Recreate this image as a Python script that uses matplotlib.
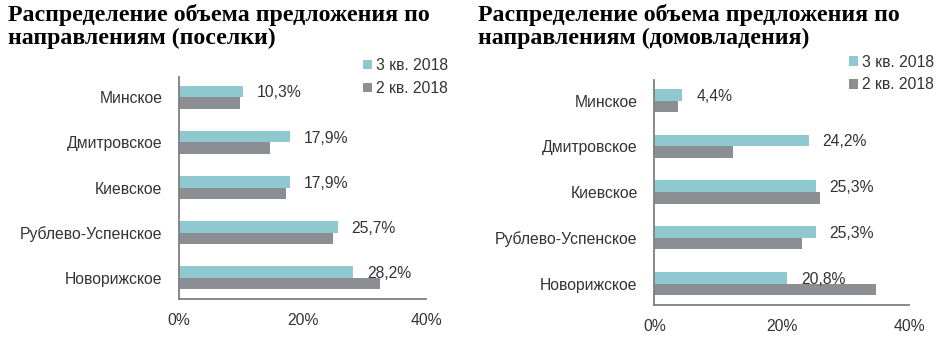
import numpy as np
import matplotlib.pyplot as plt

plt.rcParams['font.family'] = ['Liberation Sans', 'DejaVu Sans']

categories = ['Минское', 'Дмитровское', 'Киевское', 'Рублево-Успенское', 'Новорижское']
series_names = ['3 кв. 2018', '2 кв. 2018']

# поселки
villages_q3 = [10.3, 17.9, 17.9, 25.7, 28.2]
villages_q2 = [9.8, 14.8, 17.3, 25.0, 32.5]
villages_labels = ['10,3%', '17,9%', '17,9%', '25,7%', '28,2%']

# домовладения
houses_q3 = [4.4, 24.2, 25.3, 25.3, 20.8]
houses_q2 = [3.7, 12.3, 26.0, 23.1, 34.8]
houses_labels = ['4,4%', '24,2%', '25,3%', '25,3%', '20,8%']

xticks = [0, 20, 40]
xtick_labels = ['0%', '20%', '40%']

teal = '#8FC9CF'
gray = '#8B8E92'
txt = '#333333'

fig = plt.figure(figsize=(9.43, 3.52), dpi=100)


def panel(rect, title, title_x, q3, q2, labels, leg_anchor):
	ax = fig.add_axes(rect)
	y = np.arange(len(categories))
	h = 0.255
	b1 = ax.barh(y - h/2, q3, height=h, color=teal, label=series_names[0])
	b2 = ax.barh(y + h/2, q2, height=h, color=gray, label=series_names[1])
	for yi, v, s in zip(y, q3, labels):
		ax.annotate(s, (v, yi - h/2), xytext=(10, -1), textcoords='offset points',
			ha='left', va='center', fontsize=11.3, color=txt)
	ax.set_xlim(0, 40)
	ax.set_ylim(len(categories) - 0.53, -0.45)
	ax.set_yticks(y)
	ax.set_yticklabels(categories, fontsize=11.3, color=txt)
	ax.set_xticks(xticks)
	ax.set_xticklabels(xtick_labels, fontsize=11.3, color=txt)
	ax.tick_params(axis='both', length=0)
	ax.tick_params(axis='y', pad=12)
	ax.tick_params(axis='x', pad=10)
	for s in ['top', 'right']:
		ax.spines[s].set_visible(False)
	for s in ['left', 'bottom']:
		ax.spines[s].set_color('#7F7F7F')
		ax.spines[s].set_linewidth(1.3)
	leg = ax.legend(handles=[b1, b2], loc='upper right', bbox_to_anchor=leg_anchor,
		bbox_transform=fig.transFigure, frameon=False, fontsize=11.3,
		handlelength=0.55, handleheight=0.55, handletextpad=0.25, labelspacing=0.5,
		borderaxespad=0, borderpad=0)
	for t in leg.get_texts():
		t.set_color(txt)
	fig.text(title_x, 0.99, title, ha='left', va='top', fontsize=17.2,
		fontweight='bold', family='Liberation Serif', linespacing=1.12)
	return ax


panel([0.1898, 0.1506, 0.262, 0.6307],
	'Распределение объема предложения по\nнаправлениям (поселки)', 0.008,
	villages_q3, villages_q2, villages_labels, (0.475, 0.835))
panel([0.6939, 0.1335, 0.2704, 0.6392],
	'Распределение объема предложения по\nнаправлениям (домовладения)', 0.507,
	houses_q3, houses_q2, houses_labels, (0.99, 0.845))

fig.savefig('out.png', dpi=100)
